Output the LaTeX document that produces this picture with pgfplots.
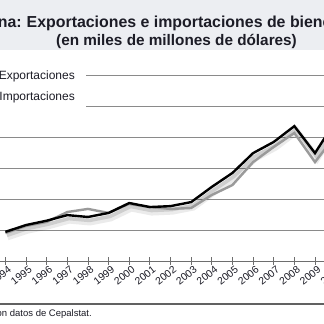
\documentclass[border=0pt]{standalone}
\usepackage{pgfplots}
\pgfplotsset{compat=1.18}
\usepackage{fontspec}
\setmainfont{Liberation Sans}
\definecolor{band}{HTML}{ECEEF2}
\definecolor{ttl}{HTML}{1C1C26}
\definecolor{impc}{HTML}{9A9A9A}
\definecolor{gridc}{HTML}{8A8A8A}
\begin{document}
\begin{tikzpicture}[x=1pt,y=1pt]
\useasboundingbox (0,0) rectangle (324,324);
\clip (0,0) rectangle (324,324);
\fill[white] (0,0) rectangle (324,324);
\fill[band] (0,274) rectangle (324,324);
\node[anchor=base east,font=\bfseries\fontsize{15.9}{18}\selectfont,text=ttl,inner sep=0pt] at (22,296.5) {América Latina:};
\node[anchor=base west,font=\bfseries\fontsize{15.9}{18}\selectfont,text=ttl,inner sep=0pt] at (26.5,296.5) {Exportaciones e importaciones de bienes};
\node[anchor=base,font=\bfseries\fontsize{15.3}{18}\selectfont,text=ttl,inner sep=0pt] at (176.5,278.5) {(en miles de millones de dólares)};
\begin{axis}[
  anchor=south west, at={(-25.56pt,63pt)},
  x=20.64pt, y=0.155pt,
  xmin=-1.5, xmax=16.5, ymin=0, ymax=1250,
  axis lines*=left,
  y axis line style={draw=none},
  ytick={200,400,600,800,1000,1200},
  ytick style={draw=none},
  yticklabel=\empty,
  ymajorgrids,
  grid style={gridc, line width=0.8pt},
  x axis line style={gridc!80!black, line width=0.9pt},
  xtick={0,...,16},
  xticklabels={1994,1995,1996,1997,1998,1999,2000,2001,2002,2003,2004,2005,2006,2007,2008,2009,2010},
  tick align=center,
  major tick length=8pt,
  xtick style={gridc!80!black, line width=0.8pt},
  xticklabel style={rotate=38, anchor=north east, font=\fontsize{10.3}{12}\selectfont, inner sep=0pt, xshift=1.5pt, yshift=-1.5pt, text=ttl},
  /pgf/number format/assume math mode=true,
  clip=false,
]
\addplot[forget plot, black, opacity=0.08, line width=7pt, xshift=2pt, yshift=-5pt] coordinates {
(0,188) (1,232) (2,260) (3,296) (4,284) (5,310) (6,374) (7,348) (8,354) (9,380) (10,478) (11,568) (12,696) (13,768) (14,870) (15,696) (16,904)};
\addplot[forget plot, black, opacity=0.12, line width=3.5pt, xshift=1.5pt, yshift=-3.5pt] coordinates {
(0,188) (1,232) (2,260) (3,296) (4,284) (5,310) (6,374) (7,348) (8,354) (9,380) (10,478) (11,568) (12,696) (13,768) (14,870) (15,696) (16,904)};
\addplot[impc, line width=2.4pt] coordinates {
(0,180) (1,226) (2,252) (3,316) (4,336) (5,310) (6,368) (7,348) (8,336) (9,342) (10,426) (11,490) (12,638) (13,736) (14,826) (15,638) (16,812)};
\addplot[black, line width=2.4pt] coordinates {
(0,188) (1,232) (2,260) (3,296) (4,284) (5,310) (6,374) (7,348) (8,354) (9,380) (10,478) (11,568) (12,696) (13,768) (14,870) (15,696) (16,904)};
\end{axis}
\fill[white] (-5,212) rectangle (86,264);
\node[anchor=base east,font=\fontsize{12}{14}\selectfont,text=ttl,inner sep=0pt] at (75,244.5) {Exportaciones};
\node[anchor=base east,font=\fontsize{12}{14}\selectfont,text=ttl,inner sep=0pt] at (75,223) {Importaciones};
\draw[gridc!70!black, line width=1.5pt] (0,20) -- (324,20);
\node[anchor=base east,font=\fontsize{9.5}{11}\selectfont,text=ttl,inner sep=0pt] at (92,8) {Fuente: elaboración propia con datos de Cepalstat.};
\end{tikzpicture}
\end{document}
